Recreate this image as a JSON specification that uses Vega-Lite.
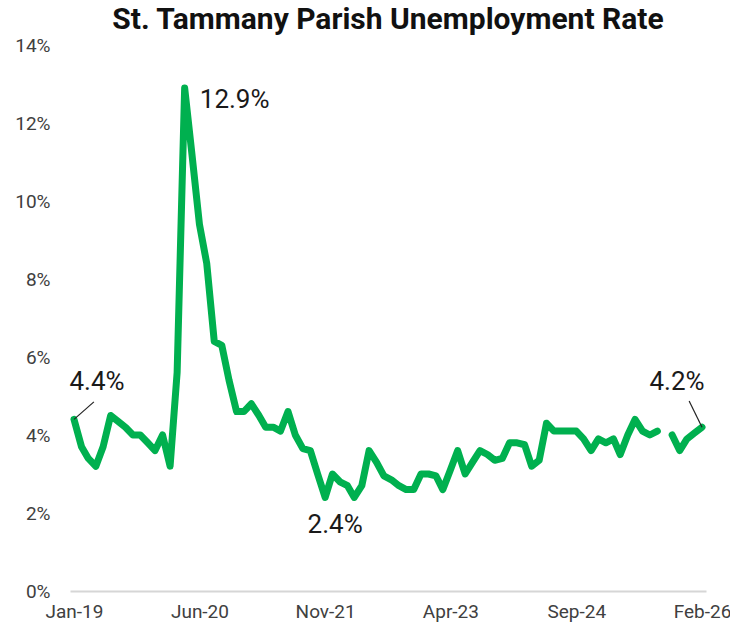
{
  "$schema": "https://vega.github.io/schema/vega-lite/v6.json",
  "width": 636,
  "height": 546,
  "autosize": "none",
  "padding": {"left": 70, "top": 45, "right": 24, "bottom": 41},
  "background": "white",
  "title": {
    "text": "St. Tammany Parish Unemployment Rate",
    "font": "Roboto",
    "fontSize": 30,
    "fontWeight": "bold",
    "color": "#111111",
    "anchor": "middle",
    "offset": 1
  },
  "config": {
    "view": {"stroke": null},
    "axis": {"labelFont": "Roboto", "labelFontSize": 19, "labelColor": "#404040", "ticks": false, "grid": false, "title": null}
  },
  "datasets": {
    "rates": [
      {"date": "2019-01-01", "rate": 4.4}, {"date": "2019-02-01", "rate": 3.7}, {"date": "2019-03-01", "rate": 3.4}, {"date": "2019-04-01", "rate": 3.2},
      {"date": "2019-05-01", "rate": 3.7}, {"date": "2019-06-01", "rate": 4.5}, {"date": "2019-07-01", "rate": 4.35}, {"date": "2019-08-01", "rate": 4.2},
      {"date": "2019-09-01", "rate": 4.0}, {"date": "2019-10-01", "rate": 4.0}, {"date": "2019-11-01", "rate": 3.8}, {"date": "2019-12-01", "rate": 3.6},
      {"date": "2020-01-01", "rate": 4.0}, {"date": "2020-02-01", "rate": 3.2}, {"date": "2020-03-01", "rate": 5.6}, {"date": "2020-04-01", "rate": 12.9},
      {"date": "2020-05-01", "rate": 11.2}, {"date": "2020-06-01", "rate": 9.4}, {"date": "2020-07-01", "rate": 8.4}, {"date": "2020-08-01", "rate": 6.4},
      {"date": "2020-09-01", "rate": 6.3}, {"date": "2020-10-01", "rate": 5.4}, {"date": "2020-11-01", "rate": 4.6}, {"date": "2020-12-01", "rate": 4.6},
      {"date": "2021-01-01", "rate": 4.8}, {"date": "2021-02-01", "rate": 4.5}, {"date": "2021-03-01", "rate": 4.2}, {"date": "2021-04-01", "rate": 4.2},
      {"date": "2021-05-01", "rate": 4.1}, {"date": "2021-06-01", "rate": 4.6}, {"date": "2021-07-01", "rate": 4.0}, {"date": "2021-08-01", "rate": 3.65},
      {"date": "2021-09-01", "rate": 3.6}, {"date": "2021-10-01", "rate": 3.0}, {"date": "2021-11-01", "rate": 2.4}, {"date": "2021-12-01", "rate": 3.0},
      {"date": "2022-01-01", "rate": 2.8}, {"date": "2022-02-01", "rate": 2.7}, {"date": "2022-03-01", "rate": 2.4}, {"date": "2022-04-01", "rate": 2.7},
      {"date": "2022-05-01", "rate": 3.6}, {"date": "2022-06-01", "rate": 3.3}, {"date": "2022-07-01", "rate": 2.95}, {"date": "2022-08-01", "rate": 2.85},
      {"date": "2022-09-01", "rate": 2.7}, {"date": "2022-10-01", "rate": 2.6}, {"date": "2022-11-01", "rate": 2.6}, {"date": "2022-12-01", "rate": 3.0},
      {"date": "2023-01-01", "rate": 3.0}, {"date": "2023-02-01", "rate": 2.95}, {"date": "2023-03-01", "rate": 2.6}, {"date": "2023-04-01", "rate": 3.1},
      {"date": "2023-05-01", "rate": 3.6}, {"date": "2023-06-01", "rate": 3.0}, {"date": "2023-07-01", "rate": 3.3}, {"date": "2023-08-01", "rate": 3.6},
      {"date": "2023-09-01", "rate": 3.5}, {"date": "2023-10-01", "rate": 3.35}, {"date": "2023-11-01", "rate": 3.4}, {"date": "2023-12-01", "rate": 3.8},
      {"date": "2024-01-01", "rate": 3.8}, {"date": "2024-02-01", "rate": 3.75}, {"date": "2024-03-01", "rate": 3.2}, {"date": "2024-04-01", "rate": 3.35},
      {"date": "2024-05-01", "rate": 4.3}, {"date": "2024-06-01", "rate": 4.1}, {"date": "2024-07-01", "rate": 4.1}, {"date": "2024-08-01", "rate": 4.1},
      {"date": "2024-09-01", "rate": 4.1}, {"date": "2024-10-01", "rate": 3.9}, {"date": "2024-11-01", "rate": 3.6}, {"date": "2024-12-01", "rate": 3.9},
      {"date": "2025-01-01", "rate": 3.8}, {"date": "2025-02-01", "rate": 3.9}, {"date": "2025-03-01", "rate": 3.5}, {"date": "2025-04-01", "rate": 4.0},
      {"date": "2025-05-01", "rate": 4.4}, {"date": "2025-06-01", "rate": 4.1}, {"date": "2025-07-01", "rate": 4.0}, {"date": "2025-08-01", "rate": 4.1},
      {"date": "2025-09-01", "rate": null}, {"date": "2025-10-01", "rate": 4.0}, {"date": "2025-11-01", "rate": 3.6}, {"date": "2025-12-01", "rate": 3.9},
      {"date": "2026-01-01", "rate": 4.05}, {"date": "2026-02-01", "rate": 4.2}
    ],
    "notes": [
      {"date": "2019-01-01", "rate": 4.4, "label": "4.4%"},
      {"date": "2020-04-01", "rate": 12.9, "label": "12.9%"},
      {"date": "2021-11-01", "rate": 2.4, "label": "2.4%"},
      {"date": "2026-02-01", "rate": 4.2, "label": "4.2%"}
    ]
  },
  "encoding": {
    "x": {
      "field": "date",
      "type": "temporal",
      "scale": {"type": "utc", "padding": 4},
      "axis": {
        "values": [
          {"year": 2019, "month": 1, "date": 1, "utc": true},
          {"year": 2020, "month": 6, "date": 1, "utc": true},
          {"year": 2021, "month": 11, "date": 1, "utc": true},
          {"year": 2023, "month": 4, "date": 1, "utc": true},
          {"year": 2024, "month": 9, "date": 1, "utc": true},
          {"year": 2026, "month": 2, "date": 1, "utc": true}
        ],
        "format": "%b-%y",
        "domainColor": "#d6d6d6",
        "domainWidth": 2,
        "labelPadding": 11,
        "labelFlush": false
      }
    },
    "y": {
      "field": "rate",
      "type": "quantitative",
      "scale": {"domain": [0, 14], "nice": false, "zero": true},
      "axis": {
        "values": [0, 2, 4, 6, 8, 10, 12, 14],
        "labelExpr": "datum.value + '%'",
        "domain": false,
        "labelPadding": 20
      }
    }
  },
  "layer": [
    {
      "data": {"name": "rates"},
      "mark": {"type": "line", "color": "#00B04F", "strokeWidth": 7, "strokeJoin": "round", "strokeCap": "round"}
    },
    {
      "data": {"name": "notes"},
      "transform": [{"filter": "datum.label == '4.4%'"}],
      "mark": {"type": "rule", "color": "#222222", "strokeWidth": 1.2},
      "encoding": {
        "x2": {"datum": {"year": 2019, "month": 3, "date": 24, "utc": true}},
        "y2": {"datum": 4.85}
      }
    },
    {
      "data": {"name": "notes"},
      "transform": [{"filter": "datum.label == '4.2%'"}],
      "mark": {"type": "rule", "color": "#222222", "strokeWidth": 1.2},
      "encoding": {
        "x2": {"datum": {"year": 2025, "month": 12, "date": 10, "utc": true}},
        "y2": {"datum": 4.87}
      }
    },
    {
      "data": {"name": "notes"},
      "transform": [{"filter": "datum.label == '4.4%'"}],
      "mark": {"type": "text", "font": "Roboto", "fontSize": 26, "color": "#1a1a1a", "align": "center", "baseline": "middle", "dx": 23, "dy": -37},
      "encoding": {"text": {"field": "label"}}
    },
    {
      "data": {"name": "notes"},
      "transform": [{"filter": "datum.label == '12.9%'"}],
      "mark": {"type": "text", "font": "Roboto", "fontSize": 26, "color": "#1a1a1a", "align": "center", "baseline": "middle", "dx": 50, "dy": 12},
      "encoding": {"text": {"field": "label"}}
    },
    {
      "data": {"name": "notes"},
      "transform": [{"filter": "datum.label == '2.4%'"}],
      "mark": {"type": "text", "font": "Roboto", "fontSize": 26, "color": "#1a1a1a", "align": "center", "baseline": "middle", "dx": 10, "dy": 28},
      "encoding": {"text": {"field": "label"}}
    },
    {
      "data": {"name": "notes"},
      "transform": [{"filter": "datum.label == '4.2%'"}],
      "mark": {"type": "text", "font": "Roboto", "fontSize": 26, "color": "#1a1a1a", "align": "center", "baseline": "middle", "dx": -25, "dy": -45},
      "encoding": {"text": {"field": "label"}}
    }
  ]
}
